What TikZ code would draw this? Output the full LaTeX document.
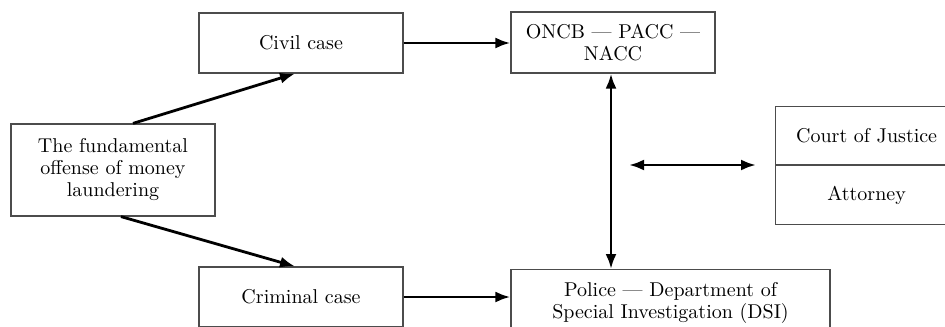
\documentclass[tikz,border=0pt]{standalone}
\usetikzlibrary{arrows.meta,calc}
\begin{document}
\begin{tikzpicture}[x=0.5pt,y=-0.5pt,
  box/.style={draw=black!70,line width=0.6pt,rectangle,align=center,font=\fontsize{10}{11}\selectfont,inner sep=0pt},
  arr/.style={line width=1.4pt,-{Latex[length=7.5pt,width=5.5pt]}},
  darr/.style={line width=1.4pt,{Latex[length=7.5pt,width=5.5pt]}-{Latex[length=7.5pt,width=5.5pt]}}]
\useasboundingbox (0,0) rectangle (945,326);
\clip (0,0) rectangle (945,326);
\node[box,minimum width=102pt,minimum height=46pt] (fund) at (113,170) {The fundamental\\offense of money\\laundering};
\node[box,minimum width=102pt,minimum height=30pt] (civil) at (301,43) {Civil case};
\node[box,minimum width=102pt,minimum height=30pt] (crim) at (301,297) {Criminal case};
\node[box,minimum width=102pt,minimum height=30.5pt] (oncb) at (613,42.5) {ONCB --- PACC ---\\NACC};
\node[box,minimum width=159.5pt,minimum height=33.5pt,anchor=north] (police) at (670.5,269) {Police --- Department of\\Special Investigation (DSI)};
\node[box,minimum width=91pt,minimum height=29pt,anchor=south west] (court) at (775,165) {Court of Justice};
\node[box,minimum width=91pt,minimum height=29.5pt,anchor=north west] (att) at (775,165) {Attorney};
\coordinate (h1) at (629,165);
\coordinate (h2) at (756,165);
\draw[arr] ($(fund.north)+(20,0)$) -- ($(civil.south)+(-6,0)$);
\draw[arr] ($(fund.south)+(8,0)$) -- ($(crim.north)+(-6,0)$);
\draw[arr] (civil.east) -- (civil.east -| oncb.west);
\draw[arr] (crim.east) -- (crim.east -| police.west);
\draw[darr] ($(oncb.south)+(-2,0)$) -- ($(oncb.south |- police.north)+(-2,0)$);
\draw[darr] (h1) -- (h2);
\end{tikzpicture}
\end{document}
